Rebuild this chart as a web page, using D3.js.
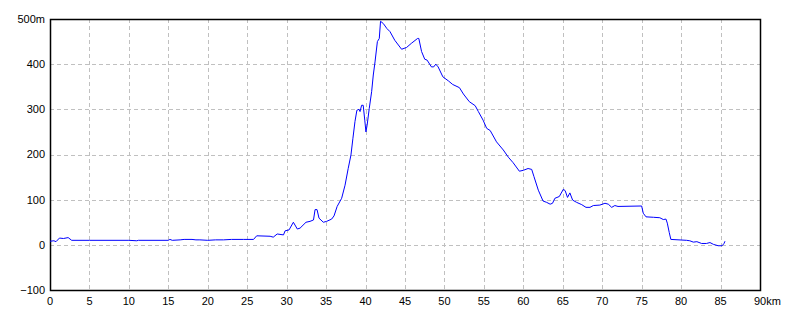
<!DOCTYPE html>
<html>
<head>
<meta charset="utf-8">
<script src="https://cdn.jsdelivr.net/npm/d3@7"></script>
<style>
  html, body { margin: 0; padding: 0; background: #fff; }
  svg { display: block; }
  text { font-family: "Liberation Sans", Arial, sans-serif; font-size: 11px; fill: #000; }
</style>
</head>
<body>
<svg id="chart" width="800" height="320"></svg>
<script>
// Distance (km) and elevation (m)
const distanceKm = [0,0.5,0.76,1.2,1.7,2.3,2.75,5,10,11,11.2,15,15.2,15.5,16.5,17,18,18.5,19,20,21,22,23,24.5,25.8,26.2,27.9,28.3,28.8,29.6,29.8,30.3,30.85,31.35,31.7,32.45,32.96,33.4,33.6,33.85,34.1,34.65,35.07,35.7,36.0,36.4,36.97,37.4,37.8,38.15,38.4,38.66,38.9,39.17,39.3,39.5,39.7,39.9,40.05,40.2,40.47,40.77,40.98,41.2,41.5,41.74,41.9,42.25,42.7,43.1,43.7,44.57,45.2,45.8,46.6,46.75,47.1,47.5,47.8,48.35,48.64,48.9,49.2,49.8,50.5,51.05,51.9,52.4,53.15,53.9,54.3,54.9,55.35,55.8,56.6,57.46,58.1,58.7,59.5,60.0,60.6,61.06,61.35,61.9,62.5,62.96,63.4,63.7,64.0,64.56,65.07,65.3,65.6,65.9,66.25,66.76,67.4,67.94,68.45,68.87,69.7,70.35,70.77,71.2,71.6,72.0,75.0,75.2,75.55,76.5,77.3,77.74,78.08,78.25,78.5,78.7,80.7,81.1,81.55,82.0,82.6,83.2,83.66,84.1,84.7,85.2,85.44,85.56];
const elevationM = [8,9,7,15,14,16,10,10,10,9,10,10,12,10,11,12,12,11,11,10,11,11,12,12,12,20,19,17,24,22,31,33,50,35,37,50,52,55,78,78,59,50,52,57,64,85,103,132,169,199,236,273,298,300,295,309,309,276,250,265,302,339,376,405,450,457,495,490,479,472,453,433,437,446,457,457,428,411,409,394,394,400,394,372,363,355,348,334,317,308,295,276,258,253,228,210,194,182,163,165,169,167,151,121,97,94,90,92,103,107,123,120,105,115,99,94,89,83,83,87,88,92,90,83,87,85,86,70,62,61,60,56,57,48,27,12,10,9,6,7,3,3,5,1,-2,-2,3,8];
const xTicks = [0,5,10,15,20,25,30,35,40,45,50,55,60,65,70,75,80,85,90];
const yTicks = [-100,0,100,200,300,400,500];

const svg = d3.select("#chart");
const mLeft = 50, mRight = 760, mTop = 19, mBottom = 290;
const x = d3.scaleLinear().domain([0, 90]).range([mLeft, mRight]);
const y = d3.scaleLinear().domain([-100, 500]).range([mBottom, mTop]);

// grid
const grid = svg.append("g").attr("stroke", "#c0c0c0").attr("stroke-width", 1).attr("stroke-dasharray", "4,3").attr("shape-rendering", "crispEdges");
grid.selectAll(".vx").data(xTicks.slice(1, -1)).enter().append("line")
  .attr("x1", d => Math.round(x(d)) + 0.5).attr("x2", d => Math.round(x(d)) + 0.5)
  .attr("y1", mTop).attr("y2", mBottom);
grid.selectAll(".hy").data(yTicks.slice(1, -1)).enter().append("line")
  .attr("y1", d => Math.round(y(d)) + 0.5).attr("y2", d => Math.round(y(d)) + 0.5)
  .attr("x1", mLeft).attr("x2", mRight);

// frame
svg.append("rect").attr("x", mLeft + 0.5).attr("y", mTop + 0.5)
  .attr("width", mRight - mLeft).attr("height", mBottom - mTop)
  .attr("fill", "none").attr("stroke", "#000").attr("stroke-width", 1.5);

// line
const pts = distanceKm.map((d, i) => [d, elevationM[i]]);
svg.append("path").datum(pts)
  .attr("fill", "none").attr("stroke", "#0000ff").attr("stroke-width", 1)
  .attr("d", d3.line().x(d => x(d[0])).y(d => y(d[1])));

// y labels
svg.selectAll(".yl").data(yTicks).enter().append("text")
  .attr("x", 45).attr("y", d => y(d)).attr("dy", "0.35em")
  .attr("text-anchor", "end")
  .text(d => d === 500 ? d + "m" : (d < 0 ? "\u2212" + Math.abs(d) : d));

// x labels
svg.selectAll(".xl").data(xTicks).enter().append("text")
  .attr("x", d => x(d)).attr("y", 305)
  .attr("text-anchor", d => d === 90 ? "start" : "middle")
  .attr("dx", d => d === 90 ? -6 : 0)
  .text(d => d === 90 ? d + "km" : d);
</script>
</body>
</html>
